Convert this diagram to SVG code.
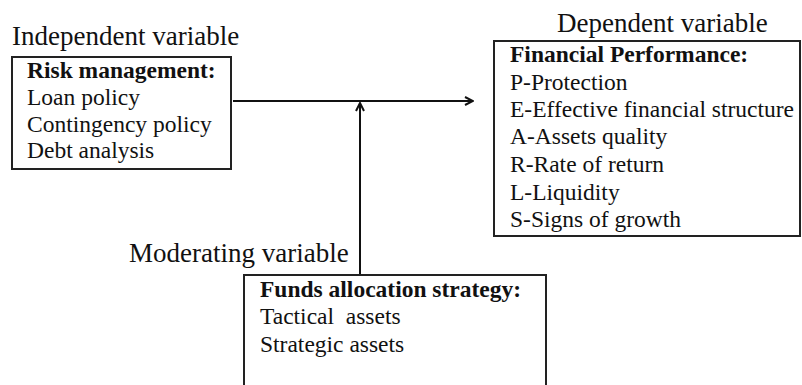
<svg xmlns="http://www.w3.org/2000/svg" width="802" height="385" viewBox="0 0 802 385">
<style>
.box{fill:#fff;stroke:#222;stroke-width:2}
.t{font-family:'Liberation Serif','Times New Roman',serif;font-size:23.5px;fill:#111}
.b{font-weight:bold}
.lbl{font-family:'Liberation Serif','Times New Roman',serif;font-size:27px;fill:#111}
.ln{stroke:#111;stroke-width:2;fill:none}
</style>
<defs>
<marker id="ah" viewBox="0 0 10 10" refX="9" refY="5" markerWidth="10" markerHeight="10" markerUnits="userSpaceOnUse" orient="auto">
<path d="M1,1 L9,5 L1,9" fill="none" stroke="#111" stroke-width="2"/>
</marker>
</defs>
<rect width="802" height="385" fill="#fff"/>
<text class="lbl" x="12" y="45">Independent variable</text>
<text class="lbl" x="557" y="32">Dependent variable</text>
<text class="lbl" x="129" y="262">Moderating variable</text>
<g id="connectors">
<line class="ln" x1="233" y1="101" x2="473" y2="101" marker-end="url(#ah)"/>
<line class="ln" x1="360" y1="275" x2="360" y2="103" marker-end="url(#ah)"/>
</g>
<g id="risk">
<rect class="box" x="12" y="57" width="219" height="112"/>
<text class="t b" x="27" y="78">Risk management:</text>
<text class="t" x="27" y="105">Loan policy</text>
<text class="t" x="27" y="132">Contingency policy</text>
<text class="t" x="27" y="158">Debt analysis</text>
</g>
<g id="performance">
<rect class="box" x="494" y="41" width="306" height="195"/>
<text class="t b" x="510" y="62">Financial Performance:</text>
<text class="t" x="510" y="90">P-Protection</text>
<text class="t" x="510" y="117">E-Effective financial structure</text>
<text class="t" x="510" y="144">A-Assets quality</text>
<text class="t" x="510" y="172">R-Rate of return</text>
<text class="t" x="510" y="200">L-Liquidity</text>
<text class="t" x="510" y="227">S-Signs of growth</text>
</g>
<g id="funds">
<rect class="box" x="244" y="275" width="302" height="120"/>
<text class="t b" x="260" y="297">Funds allocation strategy:</text>
<text class="t" x="260" y="324" xml:space="preserve">Tactical  assets</text>
<text class="t" x="260" y="352">Strategic assets</text>
</g>
</svg>
